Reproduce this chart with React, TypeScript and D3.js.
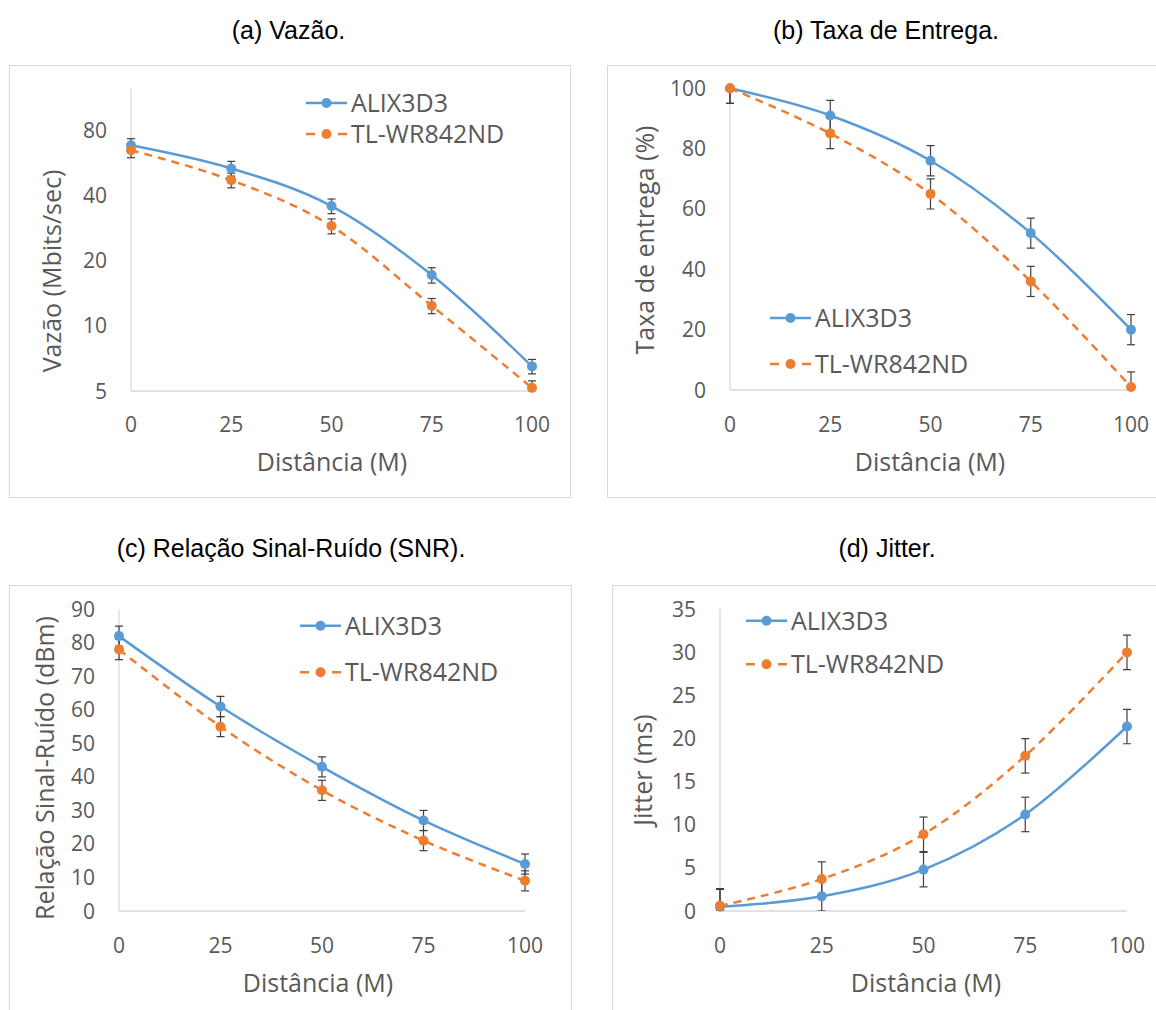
import React from "react";
import * as d3 from "d3";

const distances = [0, 25, 50, 75, 100];
const seriesNames = ["ALIX3D3", "TL-WR842ND"];

const vazaoAlix = [68.6, 53.6, 35.9, 17.2, 6.5];
const vazaoTl = [65.1, 47.3, 29.0, 12.4, 5.17];
const vazaoAlixErr = [5, 4.2, 2.8, 1.4, 0.5];
const vazaoTlErr = [5, 3.7, 2.3, 1.0, 0.4];
const vazaoTicks = [5, 10, 20, 40, 80];

const entregaAlix = [100, 91, 76, 52, 20];
const entregaTl = [100, 85, 65, 36, 1];
const entregaAlixErr = [5, 5, 5, 5, 5];
const entregaTlErr = [5, 5, 5, 5, 5];
const entregaTicks = [0, 20, 40, 60, 80, 100];

const snrAlix = [82, 61, 43, 27, 14];
const snrTl = [78, 55, 36, 21, 9];
const snrAlixErr = [3, 3, 3, 3, 3];
const snrTlErr = [3, 3, 3, 3, 3];
const snrTicks = [0, 10, 20, 30, 40, 50, 60, 70, 80, 90];

const jitterAlix = [0.5, 1.7, 4.8, 11.2, 21.4];
const jitterTl = [0.6, 3.7, 8.9, 18, 30];
const jitterAlixErr = [2, 2, 2, 2, 2];
const jitterTlErr = [2, 2, 2, 2, 2];
const jitterTicks = [0, 5, 10, 15, 20, 25, 30, 35];

const titles = ["(a) Vazão.", "(b) Taxa de Entrega.", "(c) Relação Sinal-Ruído (SNR).", "(d) Jitter."];
const yTitles = ["Vazão (Mbits/sec)", "Taxa de entrega (%)", "Relação Sinal-Ruído (dBm)", "Jitter (ms)"];
const xTitle = "Distância (M)";

const BLUE = "#5B9BD5";
const ORANGE = "#ED7D31";
const TEXT = "#595959";
const GRID = "#d9d9d9";
const CHART_FONT = "'Open Sans', sans-serif";
const TITLE_FONT = "'Liberation Sans', Arial, sans-serif";

type PanelCfg = {
  id: string;
  title: string;
  titleX: number;
  titleY: number;
  frame: { x: number; y: number; w: number; h: number };
  x0: number;
  x1: number;
  yTop: number;
  yBot: number;
  yScale: any;
  ticks: number[];
  alix: number[];
  tl: number[];
  alixErr: number[];
  tlErr: number[];
  yTitle: string;
  yTitleX: number;
  yTitleY: number;
  xTitleX: number;
  xTitleY: number;
  xTickY: number;
  legendX: number;
  legendY: number[];
};

function makePanels(): PanelCfg[] {
  return [
    {
      id: "a",
      title: titles[0],
      titleX: 288.5,
      titleY: 38.5,
      frame: { x: 9.5, y: 65.5, w: 561, h: 432 },
      x0: 131,
      x1: 532,
      yTop: 89,
      yBot: 391,
      yScale: d3.scaleLog().domain([5, 125]).range([391, 89]),
      ticks: vazaoTicks,
      alix: vazaoAlix,
      tl: vazaoTl,
      alixErr: vazaoAlixErr,
      tlErr: vazaoTlErr,
      yTitle: yTitles[0],
      yTitleX: 61,
      yTitleY: 271,
      xTitleX: 332,
      xTitleY: 471,
      xTickY: 431.5,
      legendX: 306,
      legendY: [103, 134],
    },
    {
      id: "b",
      title: titles[1],
      titleX: 886,
      titleY: 38.5,
      frame: { x: 607.5, y: 65.5, w: 560, h: 432 },
      x0: 730,
      x1: 1131,
      yTop: 88.3,
      yBot: 390,
      yScale: d3.scaleLinear().domain([0, 100]).range([390, 88.3]),
      ticks: entregaTicks,
      alix: entregaAlix,
      tl: entregaTl,
      alixErr: entregaAlixErr,
      tlErr: entregaTlErr,
      yTitle: yTitles[1],
      yTitleX: 654,
      yTitleY: 240,
      xTitleX: 930,
      xTitleY: 471,
      xTickY: 431.5,
      legendX: 770,
      legendY: [318, 364],
    },
    {
      id: "c",
      title: titles[2],
      titleX: 291,
      titleY: 557,
      frame: { x: 9.5, y: 585.5, w: 562, h: 440 },
      x0: 119,
      x1: 525,
      yTop: 609.3,
      yBot: 911,
      yScale: d3.scaleLinear().domain([0, 90]).range([911, 609.3]),
      ticks: snrTicks,
      alix: snrAlix,
      tl: snrTl,
      alixErr: snrAlixErr,
      tlErr: snrTlErr,
      yTitle: yTitles[2],
      yTitleX: 54,
      yTitleY: 768,
      xTitleX: 318,
      xTitleY: 992,
      xTickY: 952.5,
      legendX: 300,
      legendY: [625.7, 672.3],
    },
    {
      id: "d",
      title: titles[3],
      titleX: 887,
      titleY: 557,
      frame: { x: 612.5, y: 585.5, w: 560, h: 440 },
      x0: 720,
      x1: 1127,
      yTop: 609.3,
      yBot: 911,
      yScale: d3.scaleLinear().domain([0, 35]).range([911, 609.3]),
      ticks: jitterTicks,
      alix: jitterAlix,
      tl: jitterTl,
      alixErr: jitterAlixErr,
      tlErr: jitterTlErr,
      yTitle: yTitles[3],
      yTitleX: 652,
      yTitleY: 770,
      xTitleX: 926,
      xTitleY: 992,
      xTickY: 952.5,
      legendX: 746,
      legendY: [620.7, 664.3],
    },
  ];
}

function Panel({ p }: { p: PanelCfg }) {
  const x = d3.scaleLinear().domain([0, 100]).range([p.x0, p.x1]);
  const y = p.yScale;
  const line = d3
    .line<number>()
    .x((_, i) => x(distances[i]))
    .y((v) => y(v))
    .curve(d3.curveCardinal.tension(0));
  const series = [
    { name: seriesNames[0], vals: p.alix, err: p.alixErr, color: BLUE, dash: undefined as string | undefined },
    { name: seriesNames[1], vals: p.tl, err: p.tlErr, color: ORANGE, dash: "8,6" },
  ];
  const clipId = "clip-" + p.id;
  const [y0d] = y.domain();
  return (
    <g>
      <rect x={p.frame.x} y={p.frame.y} width={p.frame.w} height={p.frame.h} fill="#fff" stroke={GRID} strokeWidth={1} />
      <text x={p.titleX} y={p.titleY} textAnchor="middle" fontFamily={TITLE_FONT} fontSize={25} fill="#000">
        {p.title}
      </text>
      <defs>
        <clipPath id={clipId}>
          <rect x={p.x0 - 20} y={p.yTop} width={p.x1 - p.x0 + 40} height={p.yBot - p.yTop} />
        </clipPath>
      </defs>
      {/* axes */}
      <line x1={p.x0} x2={p.x0} y1={p.yTop} y2={p.yBot} stroke={GRID} strokeWidth={1.3} />
      <line x1={p.x0} x2={p.x1} y1={p.yBot} y2={p.yBot} stroke={GRID} strokeWidth={1.3} />
      {p.ticks.map((t) => (
        <text key={"yt" + t} x={p.x0 - 24} y={y(t) + 7.5} textAnchor="end" fontFamily={CHART_FONT} fontSize={21} fill={TEXT}>
          {t}
        </text>
      ))}
      {distances.map((d) => (
        <text key={"xt" + d} x={x(d)} y={p.xTickY} textAnchor="middle" fontFamily={CHART_FONT} fontSize={21} fill={TEXT}>
          {d}
        </text>
      ))}
      <text x={p.xTitleX} y={p.xTitleY} textAnchor="middle" fontFamily={CHART_FONT} fontSize={25} fill={TEXT}>
        {xTitle}
      </text>
      <text
        transform={`translate(${p.yTitleX},${p.yTitleY}) rotate(-90)`}
        textAnchor="middle"
        fontFamily={CHART_FONT}
        fontSize={25}
        fill={TEXT}
      >
        {p.yTitle}
      </text>
      {/* series lines */}
      {series.map((s) => (
        <path key={"l" + s.name} d={line(s.vals) || ""} fill="none" stroke={s.color} strokeWidth={2.5} strokeDasharray={s.dash} />
      ))}
      {/* error bars */}
      <g clipPath={`url(#${clipId})`}>
        {series.map((s) =>
          s.vals.map((v, i) => {
            const lo = Math.max(v - s.err[i], y0d * 0.5);
            const hi = v + s.err[i];
            const cx = x(distances[i]);
            return (
              <g key={"e" + s.name + i} stroke="#404040" strokeWidth={1.2}>
                <line x1={cx} x2={cx} y1={y(lo)} y2={y(hi)} />
                <line x1={cx - 4} x2={cx + 4} y1={y(lo)} y2={y(lo)} />
                <line x1={cx - 4} x2={cx + 4} y1={y(hi)} y2={y(hi)} />
              </g>
            );
          })
        )}
      </g>
      {/* markers */}
      {series.map((s) =>
        s.vals.map((v, i) => <circle key={"m" + s.name + i} cx={x(distances[i])} cy={y(v)} r={5} fill={s.color} />)
      )}
      {/* legend */}
      {series.map((s, k) => {
        const ly = p.legendY[k];
        return (
          <g key={"lg" + s.name}>
            <line x1={p.legendX} x2={p.legendX + 41} y1={ly} y2={ly} stroke={s.color} strokeWidth={2.5} strokeDasharray={s.dash ? "9,7" : undefined} />
            <circle cx={p.legendX + 20.5} cy={ly} r={5} fill={s.color} />
            <text x={p.legendX + 45} y={ly + 9} fontFamily={CHART_FONT} fontSize={25} fill={TEXT}>
              {s.name}
            </text>
          </g>
        );
      })}
    </g>
  );
}

export default function App() {
  const panels = makePanels();
  return (
    <svg width={1156} height={1010} style={{ position: "absolute", left: 0, top: 0, background: "#fff" }}>
      <rect x={0} y={0} width={1156} height={1010} fill="#fff" />
      {panels.map((p) => (
        <Panel key={p.id} p={p} />
      ))}
    </svg>
  );
}
